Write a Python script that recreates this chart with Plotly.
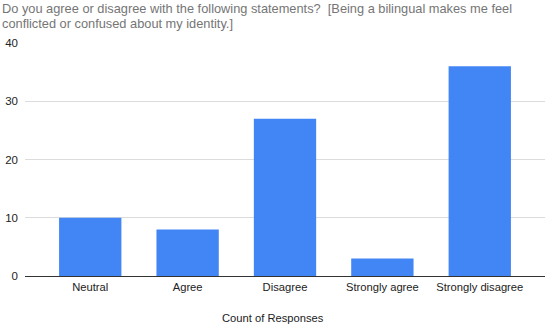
import plotly.graph_objects as go

categories = ["Neutral", "Agree", "Disagree", "Strongly agree", "Strongly disagree"]
counts = [10, 8, 27, 3, 36]
y_ticks = [0, 10, 20, 30, 40]
title_lines = [
    "Do you agree or disagree with the following statements?  [Being a bilingual makes me feel",
    "conflicted or confused about my identity.]",
]
x_title = "Count of Responses"

FONT = "Liberation Sans, Arial, sans-serif"

fig = go.Figure(go.Bar(
    x=list(range(len(categories))),
    y=counts,
    width=0.64,
    marker=dict(color="#4285F4", line=dict(width=0)),
))

pad = 0.17
fig.update_layout(
    width=548, height=324,
    margin=dict(l=25, r=3, t=43, b=48),
    paper_bgcolor="white", plot_bgcolor="white",
    showlegend=False,
    font=dict(family=FONT, size=11.2, color="#222222"),
    xaxis=dict(
        tickmode="array",
        tickvals=list(range(len(categories))),
        ticktext=categories,
        range=[-0.5 - pad, len(categories) - 0.5 + pad],
        showgrid=False, zeroline=False,
        showline=False,
        ticks="", ticklen=0,
        tickfont=dict(size=11.2, color="#222222"),
        ticklabelstandoff=3,
    ),
    yaxis=dict(
        range=[0, 40],
        tickvals=y_ticks,
        showgrid=True, gridcolor="#dcdcdc", gridwidth=1,
        zeroline=True, zerolinecolor="#333333", zerolinewidth=1,
        showline=False, ticks="",
        tickfont=dict(size=11.5, color="#222222"),
        ticklabelstandoff=6,
    ),
    annotations=[
        dict(text=title_lines[0], xref="paper", yref="paper", x=-25/520, y=1 + 43/233,
             xanchor="left", yanchor="top", showarrow=False, yshift=1,
             font=dict(family=FONT, size=12.8, color="#757575")),
        dict(text=title_lines[1], xref="paper", yref="paper", x=-25/520, y=1 + 43/233,
             xanchor="left", yanchor="top", showarrow=False, yshift=-14,
             font=dict(family=FONT, size=12.8, color="#757575")),
        dict(text=x_title, xref="paper", yref="paper", x=(273 - 25) / 520, y=-(318 - 276) / 233,
             xanchor="center", yanchor="middle", showarrow=False,
             font=dict(family=FONT, size=11.2, color="#222222")),
    ],
)

fig.write_html("out.html")
